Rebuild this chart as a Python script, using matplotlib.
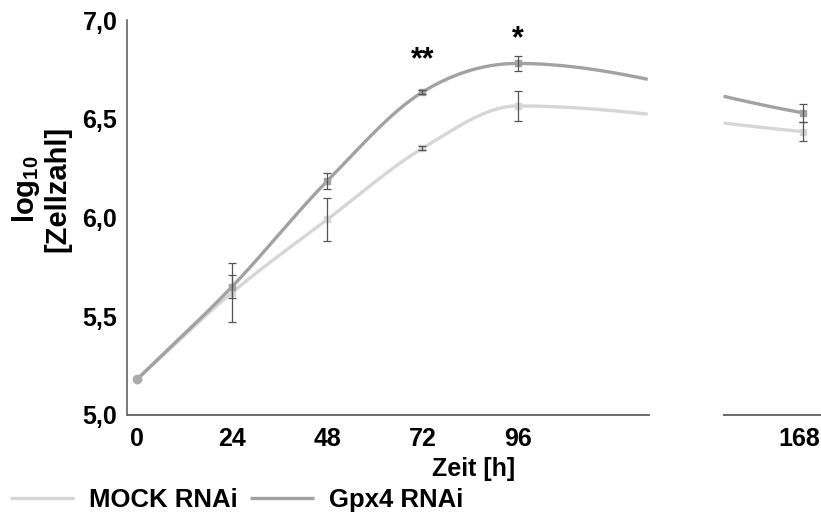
import numpy as np
import matplotlib
matplotlib.use("Agg")
import matplotlib.pyplot as plt
from matplotlib.transforms import ScaledTranslation

plt.rcParams["font.family"] = ["Liberation Sans", "DejaVu Sans"]
plt.rcParams["font.weight"] = "bold"
plt.rcParams["mathtext.fontset"] = "custom"
plt.rcParams["mathtext.rm"] = "Liberation Sans:bold"
plt.rcParams["mathtext.bf"] = "Liberation Sans:bold"

# === DATA ===
time_h = [0, 24, 48, 72, 96, 168]
tick_labels = ["0", "24", "48", "72", "96", "168"]
mock = [5.18, 5.62, 5.99, 6.35, 6.565, 6.435]
mock_err = [0.0, 0.15, 0.11, 0.01, 0.075, 0.05]
gpx4 = [5.18, 5.65, 6.185, 6.635, 6.78, 6.53]
gpx4_err = [0.0, 0.06, 0.04, 0.01, 0.04, 0.045]
stars = [(72, "**", 6.795), (96, "*", 6.905)]

# axis break (hours)
break_start, break_end = 129.3, 147.7

mock_col = "#d6d6d6"
gpx4_col = "#a2a2a2"
err_col = "#555555"

fig = plt.figure(figsize=(8.21, 5.16), dpi=100)
ax = fig.add_axes([127 / 821, 101 / 516, 694 / 821, 395 / 516])
ax.set_xlim(-2.5, 172.5)
ax.set_ylim(5.0, 7.0)


def smooth(xs, ys, n=80):
    # smoothed line: cubic Hermite, Catmull-Rom tangents, flat at peaks
    xs, ys = np.asarray(xs, float), np.asarray(ys, float)
    d = np.diff(ys) / np.diff(xs)
    m = np.empty_like(ys)
    m[0], m[-1] = d[0], d[-1]
    for i in range(1, len(xs) - 1):
        if d[i - 1] * d[i] <= 0:
            m[i] = 0.0
        else:
            m[i] = (ys[i + 1] - ys[i - 1]) / (xs[i + 1] - xs[i - 1])
    px, py = [], []
    for i in range(len(xs) - 1):
        h = xs[i + 1] - xs[i]
        t = np.linspace(0, 1, n)
        h00 = 2 * t ** 3 - 3 * t ** 2 + 1
        h10 = t ** 3 - 2 * t ** 2 + t
        h01 = -2 * t ** 3 + 3 * t ** 2
        h11 = t ** 3 - t ** 2
        px.append(xs[i] + t * h)
        py.append(h00 * ys[i] + h10 * h * m[i] + h01 * ys[i + 1] + h11 * h * m[i + 1])
    x, y = np.concatenate(px), np.concatenate(py)
    y[(x > break_start) & (x < break_end)] = np.nan
    return x, y


for vals, err, col, lab in [(mock, mock_err, mock_col, "MOCK RNAi"),
                            (gpx4, gpx4_err, gpx4_col, "Gpx4 RNAi")]:
    sx, sy = smooth(time_h, vals)
    ax.plot(sx, sy, color=col, lw=2.4, label=lab, solid_capstyle="butt", zorder=2)
    ax.plot(time_h[1:], vals[1:], "s", color=col, ms=5, mec=col, zorder=3)
    ax.errorbar(time_h[1:], vals[1:], yerr=err[1:], fmt="none", ecolor=err_col,
                elinewidth=0.9, capsize=3, capthick=0.9, zorder=4)

# common start point
ax.plot(time_h[0], gpx4[0], "o", color="#ababab", ms=6, zorder=3)

for x, s, y in stars:
    ax.text(x, y, s, ha="center", va="center", fontsize=22, fontweight="bold")

# broken bottom axis
for x0, x1 in [(-2.5, break_start), (break_end, 172.5)]:
    ax.plot([x0, x1], [5.0, 5.0], color="#444444", lw=1.1, clip_on=False,
            solid_capstyle="butt", zorder=5)

for side in ["top", "right", "bottom"]:
    ax.spines[side].set_visible(False)
ax.spines["left"].set_color("#555555")
ax.spines["left"].set_linewidth(1.1)

ax.set_xticks(time_h)
ax.set_xticklabels(tick_labels)
ax.set_yticks([5.0, 5.5, 6.0, 6.5, 7.0])
ax.set_yticklabels(["5,0", "5,5", "6,0", "6,5", "7,0"])
ax.tick_params(axis="both", length=0, labelsize=18)
ax.tick_params(axis="x", pad=9)
ax.tick_params(axis="y", pad=7)

# keep "168" inside the right edge
last = ax.get_xticklabels()[-1]
last.set_transform(last.get_transform() + ScaledTranslation(-4 / 100, 0, fig.dpi_scale_trans))

ax.set_xlabel("Zeit [h]", fontsize=18, fontweight="bold", labelpad=4)
fig.text(41 / 821, 1 - 189 / 516, "log$_{10}$\n[Zellzahl]", rotation=90,
         ha="center", va="center", multialignment="center", fontsize=21,
         fontweight="bold", linespacing=1.05)

fig.legend(loc="lower left", bbox_to_anchor=(-0.010, -0.028), ncol=2, frameon=False,
           fontsize=18.5, handlelength=2.5, handletextpad=0.6, columnspacing=0.45,
           borderpad=0.2)

fig.savefig("out.png", dpi=100)
